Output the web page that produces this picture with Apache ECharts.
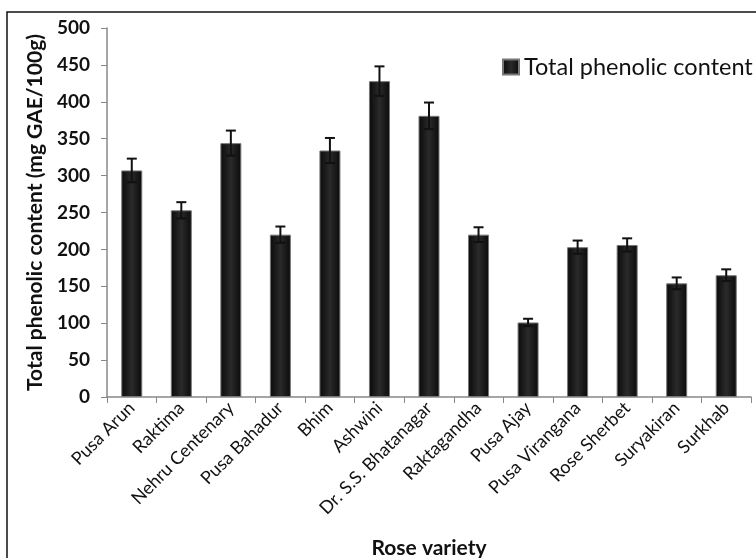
<!DOCTYPE html>
<html>
<head>
<meta charset="utf-8">
<script src="https://cdn.jsdelivr.net/npm/echarts@6/dist/echarts.min.js"></script>
<style>
  html, body { margin: 0; padding: 0; background: #fff; }
  #main { width: 756px; height: 558px; }
</style>
</head>
<body>
<div id="main"></div>
<script>
// rose varieties and their phenolic content (mg GAE/100g)
const varieties = ["Pusa Arun", "Raktima", "Nehru Centenary", "Pusa Bahadur", "Bhim", "Ashwini",
  "Dr. S.S. Bhatanagar", "Raktagandha", "Pusa Ajay", "Pusa Virangana", "Rose Sherbet", "Suryakiran", "Surkhab"];
const phenolic = [307, 253, 344, 220, 334, 428, 381, 220, 101, 203, 206, 154, 165];
const phenolicErr = [16, 11, 17, 11, 17, 20, 18, 10, 5, 9, 9, 8, 8];
const yTicks = [0, 50, 100, 150, 200, 250, 300, 350, 400, 450, 500];

const chart = echarts.init(document.getElementById("main"));

const barColor = new echarts.graphic.LinearGradient(0, 0, 1, 0, [
  { offset: 0, color: "#0a0a0a" },
  { offset: 0.5, color: "#2a2a2a" },
  { offset: 1, color: "#0a0a0a" },
]);

const option = {
  animation: false,
  textStyle: { fontFamily: "Lato" },
  grid: { left: 107, right: 5, top: 28, bottom: 161 },
  legend: {
    left: 497,
    top: 50,
    itemWidth: 16,
    itemHeight: 15,
    itemGap: 6,
    textStyle: { fontSize: 23.5, color: "#111", fontFamily: "Lato" },
    data: [{ name: "Total phenolic content", icon: "rect", itemStyle: { color: barColor } }],
  },
  xAxis: {
    type: "category",
    data: varieties,
    axisLine: { lineStyle: { color: "#888", width: 1.5 } },
    axisTick: { show: true, length: 6, lineStyle: { color: "#888" } },
    axisLabel: {
      rotate: 45,
      interval: 0,
      color: "#111",
      fontSize: 18,
      margin: 8,
    },
  },
  yAxis: {
    type: "value",
    min: yTicks[0],
    max: yTicks[yTicks.length - 1],
    interval: 50,
    name: "Total phenolic content (mg GAE/100g)",
    nameLocation: "middle",
    nameGap: 60,
    nameTextStyle: { fontSize: 21, fontWeight: "bold", color: "#111" },
    axisLine: { show: true, lineStyle: { color: "#888", width: 1.5 } },
    axisTick: { show: true, length: 6, lineStyle: { color: "#888" } },
    splitLine: { show: false },
    axisLabel: { color: "#111", fontSize: 19, fontWeight: "bold", margin: 17 },
  },
  graphic: [
    {
      type: "rect",
      shape: { x: 7, y: 12, width: 780, height: 600 },
      style: { fill: "none", stroke: "#111", lineWidth: 1.5 },
      silent: true,
    },
    {
      type: "text",
      x: 429,
      y: 548,
      style: {
        text: "Rose variety", fontSize: 21, fontWeight: "bold", fill: "#111", fontFamily: "Lato",
        align: "center", verticalAlign: "middle",
      },
    },
  ],
  series: [
    {
      name: "Total phenolic content",
      type: "bar",
      data: phenolic,
      barWidth: 21,
      itemStyle: { color: barColor, borderColor: "#777", borderWidth: 1 },
    },
    {
      name: "error",
      type: "custom",
      data: phenolic.map((v, i) => [i, v - phenolicErr[i], v + phenolicErr[i]]),
      z: 10,
      renderItem: function (params, api) {
        const lo = api.coord([api.value(0), api.value(1)]);
        const hi = api.coord([api.value(0), api.value(2)]);
        const half = 5;
        const style = { stroke: "#111", lineWidth: 2 };
        return {
          type: "group",
          children: [
            { type: "line", shape: { x1: hi[0], y1: hi[1], x2: lo[0], y2: lo[1] }, style: style },
            { type: "line", shape: { x1: hi[0] - half, y1: hi[1], x2: hi[0] + half, y2: hi[1] }, style: style },
            { type: "line", shape: { x1: lo[0] - half, y1: lo[1], x2: lo[0] + half, y2: lo[1] }, style: style },
          ],
        };
      },
    },
  ],
};

chart.setOption(option);
window.onresize = function () {
  chart.resize();
};
</script>
</body>
</html>
